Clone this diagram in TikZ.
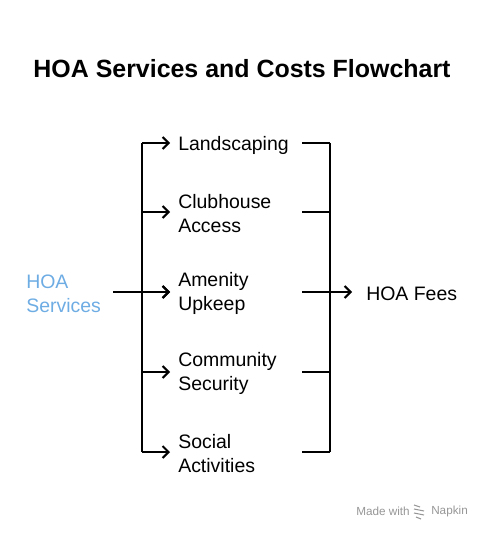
\documentclass[tikz,border=0pt]{standalone}
\usepackage{fontspec}
\setmainfont{Liberation Sans}
\usetikzlibrary{arrows.meta}
\definecolor{svcblue}{RGB}{110,172,228}
\definecolor{wmgray}{RGB}{150,150,150}
\begin{document}
\begin{tikzpicture}[x=0.75pt,y=-0.75pt,
  conn/.style={line width=1.5pt},
  arr/.style={conn,-{Straight Barb[length=4.5pt,width=9pt,line width=1.5pt]}},
  lbl/.style={anchor=west,inner xsep=6pt,inner ysep=0pt,yshift=-1.2pt,align=left,font=\fontsize{14.6}{18}\selectfont},
]
\useasboundingbox (0,0) rectangle (484,534);
\node[font=\fontsize{18.7}{22}\selectfont\bfseries] (title) at (242,69) {HOA Services and Costs Flowchart};

\node[lbl,text=svcblue,inner xsep=0pt] (svc) at (26,292) {HOA\\Services};

\node[lbl] (n1) at (170,144) {Landscaping};
\node[lbl] (n2) at (170,212) {Clubhouse\\Access};
\node[lbl] (n3) at (170,292) {Amenity\\Upkeep};
\node[lbl] (n4) at (170,372) {Community\\Security};
\node[lbl] (n5) at (170,452) {Social\\Activities};

\node[lbl,inner xsep=10.5pt] (fees) at (352,292) {HOA Fees};

% left bracket
\coordinate (l1) at (142,143);
\coordinate (l2) at (142,212);
\coordinate (l3) at (142,292);
\coordinate (l4) at (142,372);
\coordinate (l5) at (142,452);
\coordinate (sv) at (113,292);
\draw[conn] (l1) -- (l5);
\foreach \i in {1,...,5}{
  \draw[arr] (l\i) -- (n\i.west |- l\i);
}
\draw[arr] (sv) -- (n3.west |- sv);

% right bracket
\coordinate (r1) at (330,143);
\coordinate (r2) at (330,212);
\coordinate (r3) at (330,292);
\coordinate (r4) at (330,372);
\coordinate (r5) at (330,452);
\draw[conn] (r1) -- (r5);
\foreach \i in {1,2,4,5}{
  \draw[conn] ([xshift=-21pt]r\i) -- (r\i);
}
\draw[arr] ([xshift=-21pt]r3) -- (fees.west |- r3);

% watermark
\node[anchor=west,inner sep=0pt,text=wmgray,font=\fontsize{8.8}{10}\selectfont] (wm1) at (356,511) {Made with};
\node[anchor=west,inner sep=0pt,text=wmgray,font=\fontsize{8.8}{10}\selectfont] (wm2) at (431,511) {Napkin};
\draw[wmgray,line width=0.8pt] (414,505) -- (420,507) (414,509) -- (424,511) (414,513) -- (424,515) (416,517) -- (421,519);
\end{tikzpicture}
\end{document}
